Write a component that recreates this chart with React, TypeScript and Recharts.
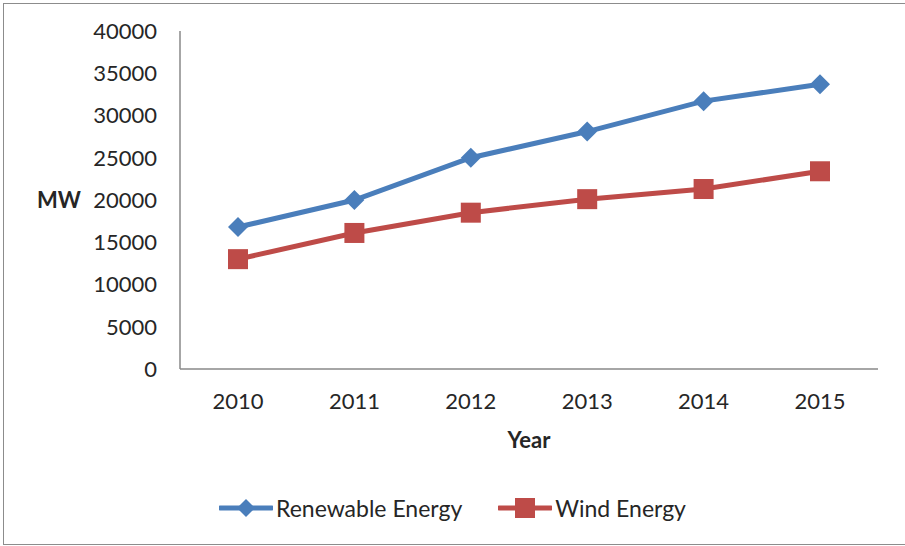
import { LineChart, Line, XAxis, YAxis, Legend, Label } from "recharts";

const years = ["2010", "2011", "2012", "2013", "2014", "2015"];
const renewableEnergy = [16800, 20000, 25000, 28100, 31700, 33700];
const windEnergy = [13000, 16100, 18500, 20100, 21300, 23400];
const yTicks = [0, 5000, 10000, 15000, 20000, 25000, 30000, 35000, 40000];

const data = years.map((year, i) => ({
  year,
  renewable: renewableEnergy[i],
  wind: windEnergy[i],
}));

const FONT = "Lato, 'Open Sans', sans-serif";
const TEXT = "#262626";
const BLUE = "#4a7ebb";
const RED = "#be4b48";
const AXIS = "#898989";

const Diamond = (props: any) => {
  const { cx, cy } = props;
  if (cx == null || cy == null) return null;
  const r = 10;
  return (
    <polygon
      points={`${cx},${cy - r} ${cx + r},${cy} ${cx},${cy + r} ${cx - r},${cy}`}
      fill={BLUE}
    />
  );
};

const Square = (props: any) => {
  const { cx, cy } = props;
  if (cx == null || cy == null) return null;
  return <rect x={cx - 10} y={cy - 10} width={20} height={20} fill={RED} />;
};

const LegendContent = () => (
  <div
    style={{
      display: "flex",
      justifyContent: "center",
      alignItems: "center",
      fontFamily: FONT,
      fontSize: 23,
      color: TEXT,
    }}
  >
    <svg width={54} height={22} style={{ marginRight: 3 }}>
      <line x1={1} y1={11} x2={53} y2={11} stroke={BLUE} strokeWidth={5} strokeLinecap="round" />
      <polygon points="27,2 36,11 27,20 18,11" fill={BLUE} />
    </svg>
    <span style={{ marginRight: 36 }}>Renewable Energy</span>
    <svg width={54} height={22} style={{ marginRight: 3 }}>
      <line x1={1} y1={11} x2={53} y2={11} stroke={RED} strokeWidth={5} strokeLinecap="round" />
      <rect x={17} y={1} width={20} height={20} fill={RED} />
    </svg>
    <span>Wind Energy</span>
  </div>
);

export default function App() {
  return (
    <div
      style={{
        position: "absolute",
        left: 0,
        top: 0,
        width: 905,
        height: 546,
        background: "#fff",
      }}
    >
      <div
        style={{
          position: "absolute",
          left: 3,
          top: 3,
          width: 902,
          height: 540,
          borderTop: "1.5px solid #8c8c8c",
          borderLeft: "1.5px solid #8c8c8c",
          borderBottom: "1.5px solid #8c8c8c",
        }}
      />
      <LineChart
        width={905}
        height={546}
        data={data}
        margin={{ top: 31, right: 27, left: 0, bottom: 92 }}
        style={{ position: "absolute", left: 0, top: 0 }}
      >
        <XAxis
          dataKey="year"
          height={85}
          padding={{ left: 58, right: 58 }}
          tickLine={false}
          axisLine={{ stroke: AXIS, strokeWidth: 1.5 }}
          tickMargin={24}
          tickSize={0}
          tick={{ fontSize: 22, fill: TEXT, fontFamily: FONT }}
        >
          <Label
            value="Year"
            position="insideBottom"
            offset={6}
            style={{ fontSize: 22, fontWeight: 700, fill: TEXT, fontFamily: FONT }}
          />
        </XAxis>
        <YAxis
          width={180}
          domain={[0, 40000]}
          ticks={yTicks}
          tickLine={false}
          tickSize={0}
          tickMargin={23}
          axisLine={{ stroke: AXIS, strokeWidth: 1.5 }}
          tick={{ fontSize: 22, fill: TEXT, fontFamily: FONT }}
        >
          <Label
            value="MW"
            position="insideLeft"
            offset={37}
            style={{ fontSize: 22, fontWeight: 700, fill: TEXT, fontFamily: FONT, textAnchor: "start" }}
          />
        </YAxis>
        <Legend
          verticalAlign="middle"
          align="center"
          layout="horizontal"
          content={LegendContent}
          wrapperStyle={{ top: 494, left: 0, width: 905 }}
        />
        <Line
          dataKey="renewable"
          name="Renewable Energy"
          stroke={BLUE}
          strokeWidth={5}
          dot={<Diamond />}
          activeDot={false}
          isAnimationActive={false}
        />
        <Line
          dataKey="wind"
          name="Wind Energy"
          stroke={RED}
          strokeWidth={5}
          dot={<Square />}
          activeDot={false}
          isAnimationActive={false}
        />
      </LineChart>
    </div>
  );
}
